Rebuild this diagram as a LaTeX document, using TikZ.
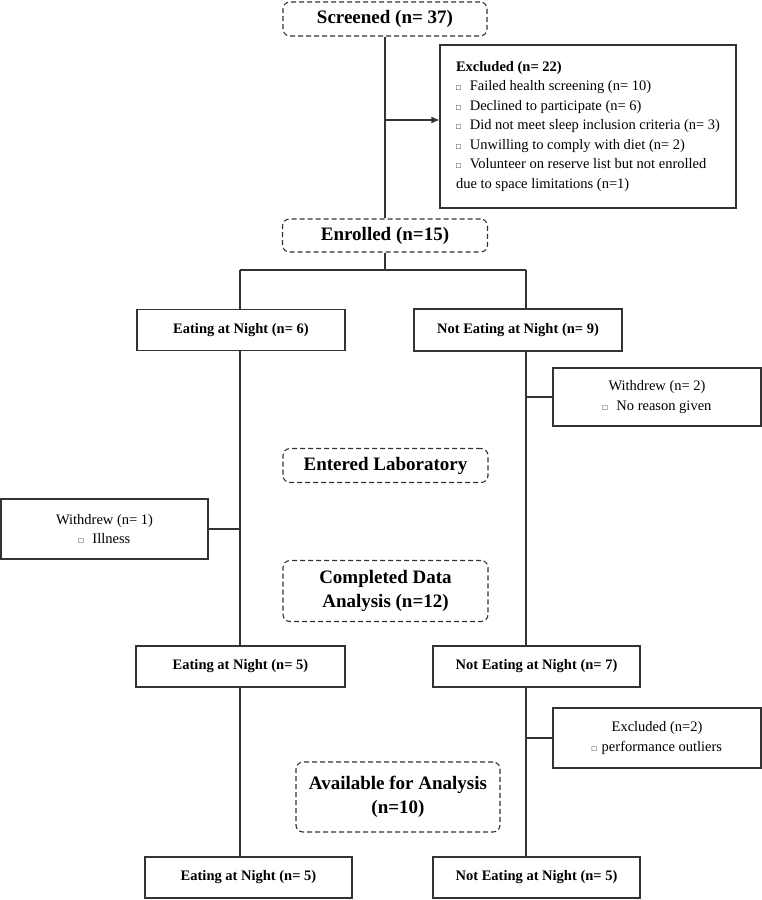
\documentclass[tikz,border=0pt]{standalone}
\usepackage{fontspec}
\setmainfont{Liberation Serif}
\usetikzlibrary{arrows.meta}
\newcommand{\sqb}{{\fontsize{8}{8}\selectfont □}}
\begin{document}
\begin{tikzpicture}[x=1pt,y=-1pt,
  phase/.style={draw=black!80, line width=1.1pt, dash pattern=on 5pt off 3pt, rounded corners=7pt,
    font=\fontsize{19}{24.5}\selectfont\bfseries, align=center, inner sep=0pt},
  grp/.style={draw=black!80, line width=1.1pt, font=\fontsize{14.5}{17}\selectfont\bfseries, inner sep=0pt},
  note/.style={draw=black!80, line width=1.1pt, font=\fontsize{14.5}{19.5}\selectfont, align=center, inner sep=0pt},
  conn/.style={draw=black!80, line width=1.1pt}]
\useasboundingbox (0,0) rectangle (762,900);

% phase boxes
\node[phase, minimum width=204pt, minimum height=34pt] (screened) at (385,19) {Screened (n= 37)};
\node[phase, minimum width=205pt, minimum height=33pt] (enrolled) at (385,235.5) {Enrolled (n=15)};
\node[phase, minimum width=205pt, minimum height=34pt] (lab) at (385.5,465.5) {Entered Laboratory};
\node[phase, minimum width=205pt, minimum height=61pt] (comp) at (385.5,591) {Completed Data\\Analysis (n=12)};
\node[phase, minimum width=204pt, minimum height=70pt] (avail) at (398,797) {Available for Analysis\\(n=10)};

% exclusion box
\node[note, align=left, minimum width=296pt, minimum height=163pt] (excl) at (588,126.5)
 {\textbf{Excluded (n= 22)}\\
  \sqb\hspace{9pt}Failed health screening (n= 10)\\
  \sqb\hspace{9pt}Declined to participate (n= 6)\\
  \sqb\hspace{9pt}Did not meet sleep inclusion criteria (n= 3)\\
  \sqb\hspace{9pt}Unwilling to comply with diet (n= 2)\\
  \sqb\hspace{9pt}Volunteer on reserve list but not enrolled\\
  due to space limitations (n=1)};

% group boxes
\node[grp, minimum width=208pt, minimum height=41pt] (eat1) at (241,330) {Eating at Night (n= 6)};
\node[grp, minimum width=208pt, minimum height=42pt] (neat1) at (518,330) {Not Eating at Night (n= 9)};
\node[grp, minimum width=209pt, minimum height=41pt] (eat2) at (240.5,666.5) {Eating at Night (n= 5)};
\node[grp, minimum width=207pt, minimum height=41pt] (neat2) at (536.5,666.5) {Not Eating at Night (n= 7)};
\node[grp, minimum width=207pt, minimum height=41pt] (eat3) at (248.5,877.5) {Eating at Night (n= 5)};
\node[grp, minimum width=207pt, minimum height=41pt] (neat3) at (536.5,877.5) {Not Eating at Night (n= 5)};

% side notes
\node[note, minimum width=208pt, minimum height=58pt] (wd2) at (657,397) {Withdrew (n= 2)\\\sqb\hspace{9pt}No reason given};
\node[note, minimum width=207pt, minimum height=60pt] (wd1) at (104.5,529) {Withdrew (n= 1)\\\sqb\hspace{9pt}Illness};
\node[note, minimum width=208pt, minimum height=60pt] (excl2) at (657,738) {Excluded (n=2)\\\sqb\hspace{5pt}performance outliers};

% connectors
\coordinate (ja) at (385,120);
\coordinate (jb) at (385,270);
\coordinate (L) at (240,270);
\coordinate (R) at (526,270);
\draw[conn] (screened.south) -- (enrolled.north);
\draw[conn, -{Latex[length=8pt,width=7pt]}] (ja) -- (ja -| excl.west);
\draw[conn] (enrolled.south) -- (jb);
\draw[conn] (L) -- (R);
\draw[conn] (L) -- (L |- eat1.north);
\draw[conn] (R) -- (R |- neat1.north);
\draw[conn] (L |- eat1.south) -- (L |- eat2.north);
\draw[conn] (L |- eat2.south) -- (L |- eat3.north);
\draw[conn] (R |- neat1.south) -- (R |- neat2.north);
\draw[conn] (R |- neat2.south) -- (R |- neat3.north);
\draw[conn] (wd1.east) -- (wd1.east -| L);
\draw[conn] (wd2.west -| R) -- (wd2.west);
\draw[conn] (excl2.west -| R) -- (excl2.west);
\end{tikzpicture}
\end{document}
